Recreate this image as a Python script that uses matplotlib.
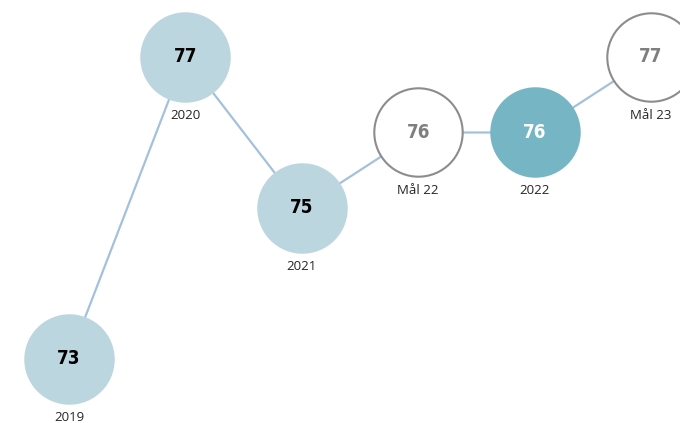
import matplotlib.pyplot as plt

# data
labels = ['2019', '2020', '2021', 'Mål 22', '2022', 'Mål 23']
values = [73, 77, 75, 76, 76, 77]
kinds = ['actual', 'actual', 'actual', 'target', 'current', 'target']

face = {'actual': '#bcd6df', 'current': '#76b6c4', 'target': 'white'}
edge = {'actual': '#bcd6df', 'current': '#76b6c4', 'target': '#8c8c8c'}
txt = {'actual': 'black', 'current': 'white', 'target': '#7f7f7f'}

fig = plt.figure(figsize=(6.8, 4.23), dpi=100)
ax = fig.add_axes([0, 0, 1, 1])
x = list(range(len(values)))

ax.plot(x, values, color='#a3c1dd', lw=1.6, zorder=1)
for xi, v, lab, k in zip(x, values, labels, kinds):
    ax.scatter(xi, v, s=4050, c=face[k], edgecolors=edge[k], linewidths=1.5, zorder=2)
    ax.text(xi, v, str(v), ha='center', va='center', fontsize=13.5, fontweight='bold',
            family='DejaVu Sans', fontstretch='condensed', color=txt[k], zorder=3)
    ax.annotate(lab, (xi, v), xytext=(0, -42), textcoords='offset points',
                ha='center', va='center', fontsize=9.5, family='Open Sans', color='#252525')

ax.set_xlim(-0.593, 5.249)
ax.set_ylim(72.152, 77.755)
ax.axis('off')
fig.savefig('out.png', dpi=100)
